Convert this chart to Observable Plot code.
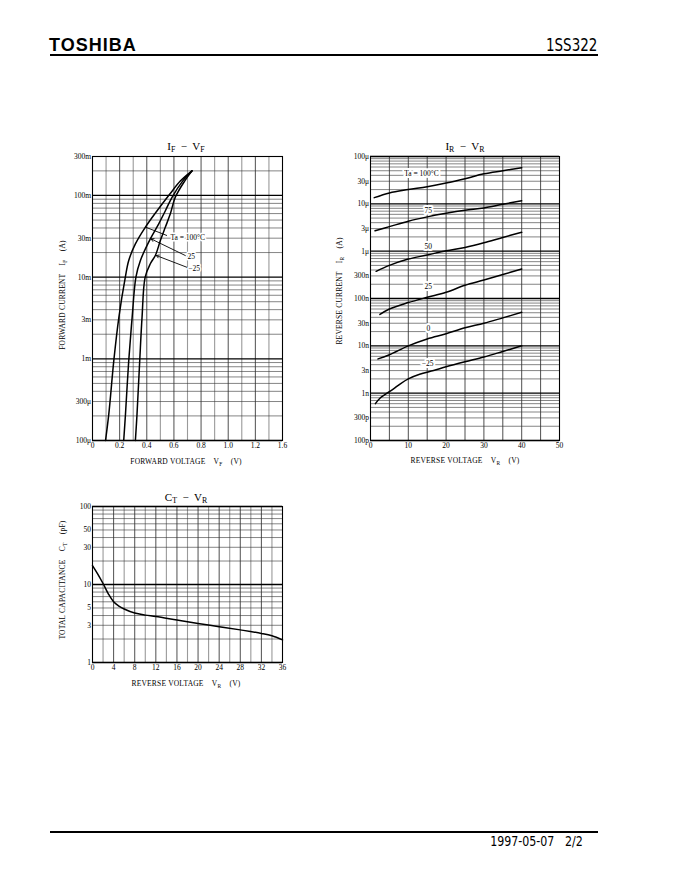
<!DOCTYPE html>
<html>
<head>
<meta charset="utf-8">
<script src="https://cdn.jsdelivr.net/npm/d3@7"></script>
<script src="https://cdn.jsdelivr.net/npm/@observablehq/plot@0.6"></script>
<style>
  html, body { margin: 0; padding: 0; background: #fff; }
  #page { position: relative; width: 680px; height: 880px; overflow: hidden; color: #000;
          font-family: "Liberation Serif", "DejaVu Serif", serif; }
  .abs { position: absolute; white-space: nowrap; line-height: 1; }
  .logo { font-family: "Liberation Sans", Arial, sans-serif; font-weight: bold; font-size: 18px; letter-spacing: 1px; }
  .narrow { font-family: "Liberation Sans Narrow", "DejaVu Sans Condensed", "Liberation Sans", sans-serif; transform-origin: right center; }
  .rule { position: absolute; background: #000; }
  .ttl { font-size: 11px; transform: translateX(-50%); }
  .axl { font-size: 7.5px; letter-spacing: 0.2px; }
  .rot { transform: translate(-50%, -50%) rotate(-90deg); }
  .cx { transform: translate(-50%, -50%); }
  sub { font-size: 72%; vertical-align: -0.3em; line-height: 0; }
</style>
</head>
<body>
<div id="page"></div>
<script>
// ---------------- DATA ----------------
// IF - VF  (V in volts, I in amperes)
const ifVF_100 = [0.096, 0.12, 0.157, 0.194, 0.242, 0.267, 0.316, 0.39, 0.476, 0.57, 0.647, 0.733];
const ifIF_100 = [1e-4, 2.1e-4, 9.5e-4, 3.2e-3, 1e-2, 1.6e-2, 2.55e-2, 4.1e-2, 6.5e-2, 0.104, 0.15, 0.2];
const ifVF_25  = [0.23, 0.243, 0.267, 0.292, 0.32, 0.353, 0.426, 0.488, 0.537, 0.586, 0.664, 0.733];
const ifIF_25  = [1e-4, 2.1e-4, 9.5e-4, 3.2e-3, 1e-2, 1.6e-2, 2.94e-2, 4.5e-2, 6.5e-2, 9.5e-2, 0.15, 0.2];
const ifVF_m25 = [0.316, 0.328, 0.348, 0.365, 0.388, 0.426, 0.463, 0.5, 0.537, 0.574, 0.61, 0.679, 0.733];
const ifIF_m25 = [1e-4, 2.1e-4, 9.5e-4, 3.2e-3, 1e-2, 1.46e-2, 1.84e-2, 2.8e-2, 4.1e-2, 6e-2, 9.5e-2, 0.15, 0.2];
const ifXTicks = [0, 0.2, 0.4, 0.6, 0.8, 1.0, 1.2, 1.4];
const ifXTickLabels = ["0", "0.2", "0.4", "0.6", "0.8", "1.0", "1.2", "1.6"];
const ifYTicks = [1e-4, 3e-4, 1e-3, 3e-3, 1e-2, 3e-2, 0.1, 0.3];
const ifYTickLabels = ["100μ", "300μ", "1m", "3m", "10m", "30m", "100m", "300m"];
const ifLabelText = ["Ta = 100°C", "25", "−25"];
const ifLabelV = [0.574, 0.70, 0.706];
const ifLabelI = [0.0305, 0.0179, 0.0127];
// leader/arrow ends: [from V, from I, to V, to I]
const ifLeader100 = [0.39, 0.041, 0.549, 0.0323];
const ifArrow25 = [0.684, 0.0184, 0.432, 0.0294];
const ifArrowM25 = [0.696, 0.0132, 0.47, 0.0184];

// IR - VR  (V in volts, I in amperes)
const irVR_100 = [1, 5, 10, 15, 20, 25, 30, 35, 40];
const irIR_100 = [13.5e-6, 17e-6, 20e-6, 23e-6, 27.5e-6, 34e-6, 43e-6, 50e-6, 58e-6];
const irVR_75 = [1.2, 5, 10, 15, 20, 25, 30, 35, 40];
const irIR_75 = [2.7e-6, 3.3e-6, 4.3e-6, 5.3e-6, 6.3e-6, 7.3e-6, 8.2e-6, 9.8e-6, 11.6e-6];
const irVR_50 = [1.5, 5, 10, 15, 20, 25, 30, 35, 40];
const irIR_50 = [0.375e-6, 0.5e-6, 0.68e-6, 0.83e-6, 1.02e-6, 1.2e-6, 1.5e-6, 1.95e-6, 2.5e-6];
const irVR_25 = [2.5, 5, 10, 15, 20, 25, 30, 35, 40];
const irIR_25 = [46e-9, 60e-9, 82e-9, 106e-9, 135e-9, 190e-9, 245e-9, 320e-9, 420e-9];
const irVR_0 = [2, 5, 10, 15, 20, 25, 30, 35, 40];
const irIR_0 = [5.3e-9, 6.5e-9, 10e-9, 14e-9, 18e-9, 24e-9, 30e-9, 39e-9, 51e-9];
const irVR_m25 = [1.3, 2.5, 4, 6, 8, 10, 13, 16.7, 20, 25, 30, 35, 40];
const irIR_m25 = [0.6e-9, 0.78e-9, 0.95e-9, 1.22e-9, 1.6e-9, 2.0e-9, 2.5e-9, 3.0e-9, 3.6e-9, 4.6e-9, 5.8e-9, 7.6e-9, 10e-9];
const irXTicks = [0, 10, 20, 30, 40, 50];
const irXTickLabels = ["0", "10", "20", "30", "40", "50"];
const irYTicks = [1e-10, 3e-10, 1e-9, 3e-9, 1e-8, 3e-8, 1e-7, 3e-7, 1e-6, 3e-6, 1e-5, 3e-5, 1e-4];
const irYTickLabels = ["100p", "300p", "1n", "3n", "10n", "30n", "100n", "300n", "1μ", "3μ", "10μ", "30μ", "100μ"];
const irLabelText = ["Ta = 100°C", "75", "50", "25", "0", "−25"];
const irLabelV = [13.5, 15.3, 15.3, 15.3, 15.3, 15.1];
const irLabelI = [43e-6, 7.1e-6, 1.24e-6, 178e-9, 23e-9, 4.2e-9];

// CT - VR  (V in volts, C in pF)
const ctVR = [0, 1, 2, 3, 4, 5, 6, 8, 10, 12, 16, 20, 24, 28, 32, 34, 36];
const ctCT = [17.5, 13.6, 10.3, 7.6, 6.0, 5.3, 4.85, 4.3, 4.05, 3.88, 3.5, 3.16, 2.88, 2.62, 2.36, 2.2, 1.95];
const ctXTicks = [0, 4, 8, 12, 16, 20, 24, 28, 32, 36];
const ctXTickLabels = ["0", "4", "8", "12", "16", "20", "24", "28", "32", "36"];
const ctYTicks = [1, 3, 5, 10, 30, 50, 100];
const ctYTickLabels = ["1", "3", "5", "10", "30", "50", "100"];

// ---------------- HELPERS ----------------
const page = document.getElementById("page");
function addHTML(html, cls, left, top, extraStyle) {
  const d = document.createElement("div");
  d.className = "abs " + (cls || "");
  d.innerHTML = html;
  d.style.left = left + "px";
  d.style.top = top + "px";
  if (extraStyle) Object.assign(d.style, extraStyle);
  page.appendChild(d);
  return d;
}
function addRule(left, top, width, height) {
  const d = document.createElement("div");
  d.className = "rule";
  Object.assign(d.style, {left: left + "px", top: top + "px", width: width + "px", height: height + "px"});
  page.appendChild(d);
}
function rows(xs, ys) { return xs.map((x, i) => ({x, y: ys[i]})); }
function logGrid(lo, hi) {
  const out = [];
  for (let e = Math.floor(Math.log10(lo)) - 1; e <= Math.ceil(Math.log10(hi)); e++) {
    for (let k = 1; k <= 9; k++) {
      const v = k * Math.pow(10, e);
      if (v >= lo * 0.999 && v <= hi * 1.001) out.push({v, major: k === 1});
    }
  }
  return out;
}

function chart(o) {
  const hg = logGrid(o.yDomain[0], o.yDomain[1]);
  const xt = o.xTicks.map((v, i) => ({v, l: o.xLabels[i]}));
  const yt = o.yTicks.map((v, i) => ({v, l: o.yLabels[i]}));
  const marks = [
    Plot.ruleX(o.vgrid.filter(d => !d.major), {x: "v", stroke: "#9a9a9a", strokeWidth: 1.1}),
    Plot.ruleX(o.vgrid.filter(d => d.major), {x: "v", stroke: "#222", strokeWidth: 0.8}),
    Plot.ruleY(hg.filter(d => !d.major), {y: "v", stroke: "#333", strokeWidth: 0.6}),
    Plot.ruleY(hg.filter(d => d.major), {y: "v", stroke: "#000", strokeWidth: 1.3}),
    Plot.text(xt, {x: "v", text: "l", frameAnchor: "bottom", lineAnchor: "top", dy: 2, fill: "#000", fontSize: 7.5}),
    Plot.text(yt, {y: "v", text: "l", frameAnchor: "left", textAnchor: "end", dx: -1.5, fill: "#000", fontSize: 7.5}),
    ...o.extra,
    Plot.frame({stroke: "#000", strokeWidth: 1.1})
  ];
  const svg = Plot.plot({
    width: o.width, height: o.height,
    marginLeft: o.ml, marginRight: o.mr, marginTop: o.mt, marginBottom: o.mb,
    style: {fontFamily: '"Liberation Serif", "DejaVu Serif", serif', fontSize: "7.5px", background: "transparent", overflow: "visible", color: "#000"},
    x: {domain: o.xDomain, axis: null},
    y: {type: "log", domain: o.yDomain, axis: null},
    marks
  });
  svg.style.position = "absolute";
  svg.style.left = o.left + "px";
  svg.style.top = o.top + "px";
  page.appendChild(svg);
}

const curveStyle = {x: "x", y: "y", stroke: "#000", strokeWidth: 1.5, curve: "catmull-rom"};
const haloText = {x: "x", y: "y", text: "t", fill: "#000", stroke: "#fff", strokeWidth: 3, paintOrder: "stroke", fontSize: 7.5};

// ---------------- HEADER / FOOTER ----------------
addHTML("TOSHIBA", "logo", 49, 35.5);
addHTML("1SS322", "narrow", 0, 36.5, {fontSize: "17px", left: "auto", right: "83px", transform: "scaleX(0.88)"});
addRule(50, 54, 548, 2);
addRule(50, 831, 548, 2);
addHTML("1997-05-07&nbsp;&nbsp;&nbsp;2/2", "narrow", 0, 835, {fontSize: "13.5px", left: "auto", right: "97px", transform: "scaleX(0.91)"});

// ---------------- CHART 1: IF - VF ----------------
chart({
  left: 40, top: 146, width: 252, height: 314, ml: 52, mr: 10, mt: 10, mb: 20,
  xDomain: [0, 1.4], yDomain: [1e-4, 0.3],
  xTicks: ifXTicks, xLabels: ifXTickLabels, yTicks: ifYTicks, yLabels: ifYTickLabels,
  vgrid: d3.range(0, 15).map(i => ({v: i / 10, major: i % 2 === 0})),
  extra: [
    Plot.line(rows(ifVF_100, ifIF_100), curveStyle),
    Plot.line(rows(ifVF_25, ifIF_25), curveStyle),
    Plot.line(rows(ifVF_m25, ifIF_m25), curveStyle),
    Plot.link([ifLeader100], {x1: d => d[0], y1: d => d[1], x2: d => d[2], y2: d => d[3], stroke: "#000", strokeWidth: 0.9}),
    Plot.arrow([ifArrow25, ifArrowM25], {x1: d => d[0], y1: d => d[1], x2: d => d[2], y2: d => d[3], stroke: "#000", strokeWidth: 0.9, headLength: 5}),
    Plot.text(ifLabelText.map((t, i) => ({t, x: ifLabelV[i], y: ifLabelI[i]})), {...haloText, textAnchor: "start"})
  ]
});
addHTML("I<sub>F</sub> &nbsp;−&nbsp; V<sub>F</sub>", "ttl", 186, 141);
addHTML("FORWARD CURRENT &nbsp;&nbsp; I<sub>F</sub> &nbsp;&nbsp; (A)", "axl rot", 63, 295);
addHTML("FORWARD VOLTAGE &nbsp;&nbsp; V<sub>F</sub> &nbsp;&nbsp; (V)", "axl cx", 186, 462);

// ---------------- CHART 2: IR - VR ----------------
chart({
  left: 320, top: 146, width: 251, height: 314, ml: 50, mr: 12, mt: 10, mb: 20,
  xDomain: [0, 50], yDomain: [1e-10, 1e-4],
  xTicks: irXTicks, xLabels: irXTickLabels, yTicks: irYTicks, yLabels: irYTickLabels,
  vgrid: d3.range(0, 11).map(i => ({v: i * 5, major: true})),
  extra: [
    Plot.line(rows(irVR_100, irIR_100), curveStyle),
    Plot.line(rows(irVR_75, irIR_75), curveStyle),
    Plot.line(rows(irVR_50, irIR_50), curveStyle),
    Plot.line(rows(irVR_25, irIR_25), curveStyle),
    Plot.line(rows(irVR_0, irIR_0), curveStyle),
    Plot.line(rows(irVR_m25, irIR_m25), curveStyle),
    Plot.text(irLabelText.map((t, i) => ({t, x: irLabelV[i], y: irLabelI[i]})), {...haloText, strokeWidth: 4, textAnchor: "middle"})
  ]
});
addHTML("I<sub>R</sub> &nbsp;−&nbsp; V<sub>R</sub>", "ttl", 465, 141);
addHTML("REVERSE CURRENT &nbsp;&nbsp; I<sub>R</sub> &nbsp;&nbsp; (A)", "axl rot", 340, 291);
addHTML("REVERSE VOLTAGE &nbsp;&nbsp; V<sub>R</sub> &nbsp;&nbsp; (V)", "axl cx", 465, 461);

// ---------------- CHART 3: CT - VR ----------------
chart({
  left: 40, top: 496, width: 252, height: 186, ml: 52, mr: 10, mt: 10, mb: 20,
  xDomain: [0, 36], yDomain: [1, 100],
  xTicks: ctXTicks, xLabels: ctXTickLabels, yTicks: ctYTicks, yLabels: ctYTickLabels,
  vgrid: d3.range(0, 19).map(i => ({v: i * 2, major: i % 2 === 0})),
  extra: [
    Plot.line(rows(ctVR, ctCT), curveStyle)
  ]
});
addHTML("C<sub>T</sub> &nbsp;−&nbsp; V<sub>R</sub>", "ttl", 186, 492);
addHTML("TOTAL CAPACITANCE &nbsp;&nbsp; C<sub>T</sub> &nbsp;&nbsp; (pF)", "axl rot", 63, 580);
addHTML("REVERSE VOLTAGE &nbsp;&nbsp; V<sub>R</sub> &nbsp;&nbsp; (V)", "axl cx", 186, 684);
</script>
</body>
</html>
